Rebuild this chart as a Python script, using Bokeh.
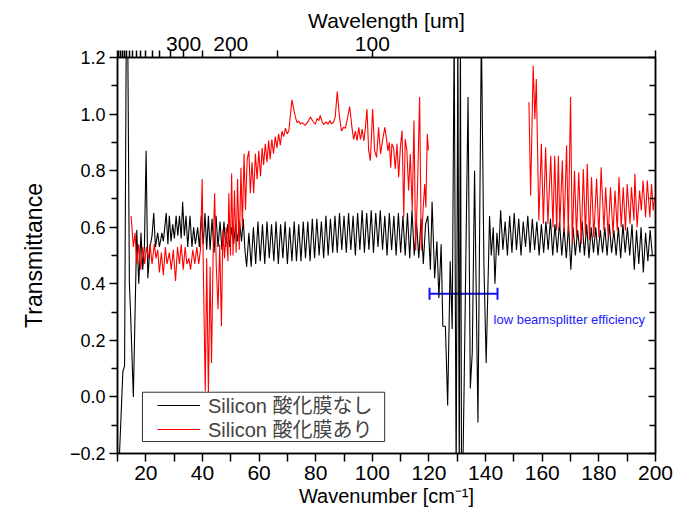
from bokeh.plotting import figure
from bokeh.models import (Range1d, LinearAxis, FixedTicker, Legend, LegendItem, BoxAnnotation,
                          Label, Whisker, TeeHead, ColumnDataSource, CustomJSTickFormatter)
from bokeh.embed import file_html
from bokeh.resources import INLINE

NaN = float("nan")

# ---------------- data ----------------
# Silicon, no oxide film (black)
black_x = [10.3, 11.9, 12.5, 13.1, 13.6, 14.2, 14.6, 15.6, 16.8, 17.5, 18.3, 18.9, 19.5, 20.1, 20.7,
           21.5, 22.2, 22.8, 23.4, 24.2, 24.8, 25.7, 26.2, 27.2, 27.8, 28.3, 28.9, 29.5, 30.1, 30.7,
           31.3, 31.9, 32.5, 33.0, 33.6, 34.2, 34.8, 35.6, 36.3, 36.9, 37.5, 38.3, 38.9, 39.6, 40.3,
           40.9, 41.5, 42.1, 42.7, 43.4, 44.1, 44.8, 45.5, 46.2, 46.9, 47.6, 48.2, 48.9, 49.6, 50.3,
           51.0, 51.7, 52.4, 53.1, 53.8, 54.4, 55.0, 55.6, 56.4, 57.2, 58.0, 58.8, 59.6, 60.4, 61.2,
           62.0, 62.8, 63.6, 64.4, 65.2, 66.0, 66.8, 67.6, 68.4, 69.2, 70.0, 70.8, 71.6, 72.4, 73.2,
           74.0, 74.8, 75.6, 76.4, 77.2, 78.0, 78.8, 79.6, 80.4, 81.2, 82.0, 82.8, 83.6, 84.4, 85.2,
           86.0, 86.8, 87.6, 88.4, 89.2, 90.0, 90.8, 91.6, 92.4, 93.2, 94.0, 94.8, 95.6, 96.4, 97.2,
           98.0, 98.8, 99.6, 100.4, 101.2, 102.0, 102.8, 103.6, 104.4, 105.2, 106.0, 106.8, 107.6,
           108.4, 109.2, 110.0, 110.8, 111.6, 112.4, 113.2, 114.0, 114.8, 115.6, 116.4, 117.2, 118.0,
           118.8, 119.6, 120.5, 121.1, 122.0, 122.8, 123.5, 124.3, 124.9, 125.8, 126.6, 127.5, 128.2,
           128.9, 129.6, 130.2, 130.7, 131.1, 131.5, 131.9, 132.4, 133.8, 134.6, 135.3, 136.1, 137.3,
           138.5, 139.4, 140.2, 141.4, 142.0, 142.7, 143.3, 144.0, 144.6, 145.3, 146.1, 146.9, 147.7,
           148.5, 149.3, 150.1, 150.9, 151.7, 152.5, 153.3, 154.1, 154.9, 155.7, 156.5, 157.3, 158.1,
           158.9, 159.7, 160.5, 161.3, 162.1, 162.9, 163.7, 164.5, 165.3, 166.1, 166.9, 167.7, 168.5,
           169.3, 170.1, 170.9, 171.7, 172.5, 173.3, 174.1, 174.9, 175.7, 176.5, 177.3, 178.1, 178.9,
           179.7, 180.5, 181.3, 182.1, 182.9, 183.7, 184.5, 185.3, 186.1, 186.9, 187.7, 188.5, 189.3,
           190.1, 190.9, 191.7, 192.5, 193.3, 194.1, 194.9, 195.7, 196.5, 197.3, 198.1, 198.9, 199.7]
black_y = [-0.30, 0.09, 0.11, 1.30, 1.30, 0.40, 0.30, 0.00, 0.59, 0.40, 0.58, 0.45, 0.53, 0.87, 0.42,
           0.53, 0.57, 0.65, 0.53, 0.58, 0.53, 0.58, 0.55, 0.65, 0.54, 0.64, 0.55, 0.61, 0.56, 0.64,
           0.57, 0.64, 0.56, 0.69, 0.57, 0.64, 0.53, 0.64, 0.53, 0.60, 0.54, 0.60, 0.53, 0.64, 0.54,
           0.65, 0.52, 0.64, 0.52, 0.63, 0.51, 0.64, 0.53, 0.62, 0.52, 0.62, 0.53, 0.61, 0.53, 0.60,
           0.54, 0.61, 0.55, 0.62, 0.55, 0.63, 0.52, 0.46, 0.58, 0.46, 0.60, 0.47, 0.62, 0.48, 0.61,
           0.47, 0.62, 0.49, 0.61, 0.48, 0.62, 0.47, 0.61, 0.49, 0.62, 0.47, 0.60, 0.48, 0.62, 0.48,
           0.61, 0.48, 0.62, 0.49, 0.62, 0.48, 0.63, 0.49, 0.63, 0.50, 0.62, 0.49, 0.64, 0.50, 0.63,
           0.51, 0.64, 0.51, 0.65, 0.52, 0.64, 0.51, 0.65, 0.52, 0.64, 0.50, 0.65, 0.52, 0.66, 0.51,
           0.65, 0.52, 0.66, 0.51, 0.65, 0.53, 0.66, 0.52, 0.64, 0.50, 0.65, 0.52, 0.64,
           0.50, 0.65, 0.51, 0.64, 0.50, 0.65, 0.49, 0.66, 0.50, 0.62, 0.49, 0.63,
           0.47, 0.61, 0.64, 0.45, 0.69, 0.42, 0.55, 0.35, 0.54, 0.25, 0.25, -0.03, 0.48,
           0.24, 1.30, -0.30, 1.30, -0.30, 1.30, -0.30, -0.30, 0.03, 1.06, 0.03, 0.16, 0.80,
           -0.09, 1.30, 0.47, 0.12, 0.64, 0.50, 0.60, 0.40, 0.58, 0.50, 0.66, 0.52, 0.62,
           0.50, 0.64, 0.51, 0.65, 0.52, 0.63, 0.50, 0.62, 0.53, 0.64, 0.51, 0.63, 0.52,
           0.62, 0.50, 0.61, 0.51, 0.62, 0.52, 0.63, 0.50, 0.61, 0.51, 0.62, 0.50, 0.60,
           0.49, 0.61, 0.45, 0.60, 0.50, 0.59, 0.51, 0.62, 0.50, 0.61, 0.49, 0.60, 0.51,
           0.60, 0.50, 0.59, 0.51, 0.60, 0.50, 0.61, 0.51, 0.59, 0.50, 0.60, 0.49, 0.61,
           0.51, 0.60, 0.50, 0.61, 0.45, 0.59, 0.47, 0.60, 0.44, 0.58, 0.48, 0.59, 0.50]

# Silicon, with oxide film (red); NaN marks the gap in the measurement
red_x = [14.8, 15.6, 16.2, 16.8, 17.5, 18.2, 18.9, 19.6, 20.2, 20.9, 21.5, 22.2, 23.0, 23.6, 24.2,
         24.8, 25.5, 26.2, 26.9, 27.5, 28.3, 29.0, 29.7, 30.5, 31.2, 31.9, 32.5, 33.2, 33.9, 34.5,
         35.2, 35.8, 36.6, 37.3, 38.0, 38.7, 39.3, 39.9, 40.3, 41.0, 41.5, 42.1, 42.7, 43.2, 43.8,
         44.3, 44.9, 45.5, 46.1, 46.7, 47.2, 47.8, 48.4, 49.0, 49.3, 49.9, 50.3, 50.8, 51.3, 51.9,
         52.4, 53.0, 53.6, 54.1, 54.7, 55.2, 55.8, 56.4, 56.9, 57.5, 58.1, 58.7, 59.3, 59.9, 60.5,
         61.1, 61.6, 62.2, 62.8, 63.4, 63.9, 64.5, 65.1, 65.7, 66.3, 66.9, 67.5, 68.1, 68.7, 69.3,
         69.9, 70.5, 71.0, 71.6, 72.2, 72.8, 73.4, 74.0, 74.6, 75.2, 76.3, 77.5, 78.1, 78.7, 79.3,
         79.9, 80.5, 81.1, 81.6, 82.2, 82.8, 83.6, 84.4, 85.0, 85.6, 86.3, 86.9, 87.6, 88.4, 89.1,
         89.8, 90.5, 91.3, 92.0, 92.8, 93.4, 94.0, 94.6, 95.2, 95.8, 96.4, 97.0, 97.5, 98.1, 98.7,
         99.3, 100.1, 100.8, 101.5, 102.2, 102.9, 103.6, 104.4, 104.9, 105.5, 106.0, 106.5, 106.9,
         107.5, 108.1, 108.7, 109.3, 109.9, 110.5, 111.1, 111.6, 112.2, 112.8, 113.4, 114.1, 114.7,
         115.3, 115.9, 116.7, 117.3, 117.9, 118.5, 118.9, 119.4, 119.8,
         NaN,
         155.3, 155.9, 156.8, 157.4, 157.9, 158.8, 159.7, 160.4, 161.2, 162.0, 163.0, 163.8, 164.4,
         165.1, 165.7, 166.2, 167.1, 167.7, 168.6, 169.2, 170.0, 170.6, 171.4, 172.1, 172.9, 173.8,
         174.5, 175.3, 175.9, 176.7, 177.4, 178.2, 179.2, 180.0, 180.8, 181.8, 182.4, 183.3, 184.1,
         185.0, 185.7, 186.5, 187.1, 187.9, 188.6, 189.4, 190.0, 191.0, 191.5, 192.4, 192.7, 193.5,
         194.4, 195.0, 195.6, 196.5, 197.1, 198.0, 198.6, 199.2, 199.7]
red_y = [0.64, 0.53, 0.58, 0.47, 0.54, 0.45, 0.53, 0.47, 0.53, 0.49, 0.54, 0.47, 0.54, 0.49, 0.52,
         0.44, 0.51, 0.43, 0.53, 0.47, 0.51, 0.45, 0.52, 0.41, 0.53, 0.47, 0.54, 0.45, 0.53, 0.47,
         0.49, 0.45, 0.52, 0.47, 0.53, 0.47, 0.52, 0.77, 0.46, 0.02, 0.49, 0.01, 0.46, 0.12, 0.52,
         0.72, 0.46, 0.31, 0.54, 0.25, 0.59, 0.49, 0.60, 0.48, 0.72, 0.50, 0.79, 0.50, 0.73, 0.51,
         0.77, 0.52, 0.81, 0.60, 0.86, 0.66, 0.84, 0.87, 0.72, 0.83, 0.72, 0.86, 0.77, 0.87, 0.78,
         0.88, 0.82, 0.895, 0.83, 0.906, 0.84, 0.91, 0.86, 0.92, 0.88, 0.93, 0.89, 0.94, 0.92, 0.95,
         0.93, 0.94, 0.99, 1.05, 1.02, 0.99, 0.97, 0.975, 0.965, 0.97, 0.96, 0.977, 0.99, 0.98, 0.97,
         0.965, 0.985, 0.977, 0.995, 0.975, 0.963, 0.972, 0.965, 0.977, 0.965, 0.972, 0.99, 1.08,
         0.99, 0.94, 0.953, 0.95, 0.99, 1.026, 0.953, 0.91, 0.94, 0.906, 0.953, 0.91, 0.947, 0.905,
         0.947, 1.018, 0.871, 0.835, 1.018, 0.871, 0.847, 0.953, 0.859, 0.906, 0.953, 0.92, 0.87,
         0.90, 0.81, 0.895, 0.88, 0.806, 0.895, 0.777, 0.883, 0.942, 0.635, 0.912, 0.871, 0.73,
         0.859, 0.659, 0.977, 0.518, 0.718, 1.06, 0.518, 0.659, 0.753, 0.67, 0.93, 0.871,
         NaN,
         1.042, 0.712, 1.171, 0.983, 1.124, 0.624, 0.895, 0.612, 0.883, 0.612, 0.853, 0.600, 0.853,
         0.588, 0.853, 0.600, 0.836, 0.582, 0.889, 0.576, 1.060, 0.541, 0.800, 0.565, 0.794, 0.541,
         0.806, 0.565, 0.824, 0.553, 0.777, 0.565, 0.771, 0.565, 0.812, 0.588, 0.741, 0.565, 0.741,
         0.576, 0.730, 0.588, 0.777, 0.600, 0.741, 0.588, 0.753, 0.612, 0.741, 0.624, 0.789, 0.600,
         0.730, 0.659, 0.765, 0.635, 0.765, 0.635, 0.753, 0.659, 0.706]

series_names = ["Silicon 酸化膜なし", "Silicon 酸化膜あり"]

# axis ticks
y_major = [-0.2, 0.0, 0.2, 0.4, 0.6, 0.8, 1.0, 1.2]
y_minor = [-0.1, 0.1, 0.3, 0.5, 0.7, 0.9, 1.1]
x_major = [20, 40, 60, 80, 100, 120, 140, 160, 180, 200]
x_minor = [10, 30, 50, 70, 90, 110, 130, 150, 170, 190]

# top axis: wavelength in um (tick marks every 50 um, labels at 100/200/300)
wl_labeled = [300, 200, 100]
wl_unlabeled = [1000, 950, 900, 850, 800, 750, 700, 650, 600, 550, 500, 450, 400, 350, 250, 150, 50]

# annotation: low beam-splitter efficiency band
band_lo = [120.2]
band_hi = [144.2]
band_level = [0.365]
band_note = "low beamsplitter efficiency"

# ---------------- figure ----------------
SANS = "Liberation Sans"
NARROW = "Liberation Sans Narrow, Liberation Sans"
CJK = "Liberation Sans, Noto Sans CJK JP"

p = figure(width=674, height=518, x_range=Range1d(10, 200), y_range=Range1d(-0.2, 1.2),
           output_backend="svg", toolbar_location=None,
           min_border_left=117, min_border_right=19, min_border_top=57, min_border_bottom=65)
p.grid.visible = False
p.outline_line_color = "black"
p.outline_line_width = 1.5
p.background_fill_color = "white"
p.border_fill_color = "white"

black_r = p.line(black_x, black_y, line_color="black", line_width=1.1)
red_r = p.line(red_x, red_y, line_color="#ff0000", line_width=1.1)

# bottom axis
xa = p.xaxis[0]
xa.ticker = FixedTicker(ticks=x_major, minor_ticks=x_minor)
xa.axis_label = "Wavenumber [cm⁻¹]"
xa.axis_label_text_font = SANS
xa.axis_label_text_font_size = "20px"
xa.axis_label_text_font_style = "normal"
xa.axis_label_standoff = 2
xa.major_label_text_font = NARROW
xa.major_label_text_font_size = "21px"
xa.major_label_standoff = 4
xa.major_tick_out = 8
xa.major_tick_in = 0
xa.minor_tick_out = 8
xa.minor_tick_in = 0

# left axis
ya = p.yaxis[0]
ya.ticker = FixedTicker(ticks=y_major, minor_ticks=y_minor)
ya.formatter = CustomJSTickFormatter(code="return tick.toFixed(1).replace('-', '\u2212');")
ya.axis_label = "Transmittance"
ya.axis_label_text_font = SANS
ya.axis_label_text_font_size = "23px"
ya.axis_label_text_font_style = "normal"
ya.axis_label_standoff = 20
ya.major_label_text_font = SANS
ya.major_label_text_font_size = "18px"
ya.major_label_standoff = 4
ya.major_tick_out = 8
ya.major_tick_in = 0
ya.minor_tick_out = 6
ya.minor_tick_in = 0

# right axis (ticks only, pointing inward)
ra = LinearAxis(ticker=FixedTicker(ticks=y_major, minor_ticks=y_minor),
                formatter=CustomJSTickFormatter(code="return '';"),
                major_tick_in=7, major_tick_out=0, minor_tick_in=6, minor_tick_out=0)
p.add_layout(ra, "right")

# top axis: wavelength
ta = LinearAxis(ticker=FixedTicker(ticks=[1e4 / w for w in wl_labeled],
                                   minor_ticks=[1e4 / w for w in wl_unlabeled]),
                formatter=CustomJSTickFormatter(code="return Math.round(10000 / tick).toString();"),
                axis_label="Wavelength [um]",
                major_tick_out=7, major_tick_in=0, minor_tick_out=7, minor_tick_in=0)
ta.axis_label_text_font = SANS
ta.axis_label_text_font_size = "21px"
ta.axis_label_text_font_style = "normal"
ta.axis_label_standoff = 2
ta.major_label_text_font = NARROW
ta.major_label_text_font_size = "21px"
ta.major_label_standoff = 0
p.add_layout(ta, "above")

for ax in (xa, ya, ra, ta):
    ax.axis_line_width = 1.5
    ax.axis_line_color = "black"
    ax.major_tick_line_width = 1.5
    ax.minor_tick_line_width = 1.5
    ax.major_tick_line_color = "black"
    ax.minor_tick_line_color = "black"
    ax.major_label_text_color = "black"
    ax.axis_label_text_color = "black"

# blue band with end caps
bsrc = ColumnDataSource(dict(base=band_level, lower=band_lo, upper=band_hi))
wh = Whisker(source=bsrc, base="base", lower="lower", upper="upper", dimension="width",
             line_color="#1010ff", line_width=2,
             lower_head=TeeHead(size=12, line_color="#1010ff", line_width=2),
             upper_head=TeeHead(size=12, line_color="#1010ff", line_width=2))
p.add_layout(wh)
p.add_layout(Label(x=band_hi[0] - 1.4, y=band_level[0] - 0.093, text=band_note,
                   text_font=SANS, text_font_size="13px", text_color="#2020ff",
                   text_baseline="middle", text_align="left"))

# legend: one frame box, two tightly stacked single-entry legends inside it
p.add_layout(BoxAnnotation(left=18.82, right=104.35, bottom=-0.1577, top=0.0166,
                           fill_color="white", fill_alpha=1.0,
                           line_color="#333333", line_width=1, line_alpha=1.0))
for r, name, loc in ((black_r, series_names[0], (40, 34)), (red_r, series_names[1], (40, 10))):
    lg = Legend(items=[LegendItem(label=name, renderers=[r])],
                location=loc, orientation="vertical",
                label_text_font=CJK, label_text_font_size="20px",
                glyph_width=43, glyph_height=20, label_height=20, label_standoff=8,
                padding=0, spacing=0, margin=0,
                border_line_color=None, background_fill_alpha=0.0)
    p.add_layout(lg)

open("out.html", "w").write(file_html(p, INLINE))
